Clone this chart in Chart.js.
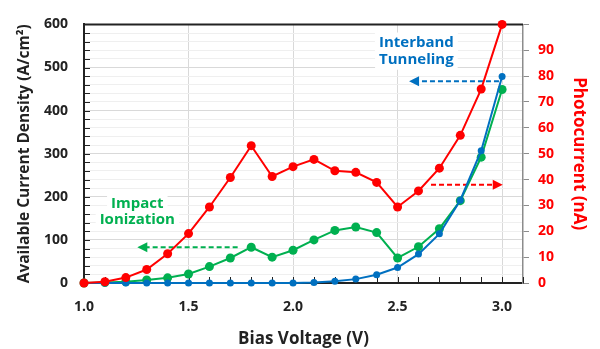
<!DOCTYPE html>
<html><head><meta charset="utf-8">
<script src="https://cdn.jsdelivr.net/npm/chart.js@4/dist/chart.umd.min.js"></script>
<style>html,body{margin:0;padding:0;background:#fff}</style>
</head><body>
<canvas id="c" width="600" height="349"></canvas>
<script>
const biasVoltage = [1.0,1.1,1.2,1.3,1.4,1.5,1.6,1.7,1.8,1.9,2.0,2.1,2.2,2.3,2.4,2.5,2.6,2.7,2.8,2.9,3.0];
const photocurrentNA = [0,0.5,2.1,5.2,11.3,19.1,29.4,40.8,53.1,41.2,45.0,47.8,43.4,42.8,38.9,29.4,35.6,44.4,57.1,75.0,100];
const impactIonization = [0,1,3,7,12,21,38,58,83,60,76,100,122,130,117,58,84,126,191,292,449];
const interbandTunneling = [0,0,0,0,0,0,0,0,0,0,0,1,4,9,19,36,67,114,192,307,479];
const leftTicks = [0,100,200,300,400,500,600];
const rightTicks = [0,10,20,30,40,50,60,70,80,90];
const xTicks = [1.0,1.5,2.0,2.5,3.0];

const RED = '#FF0000', GREEN = '#00B050', BLUE = '#0070C0';
const FONT = "'Open Sans', sans-serif";

const pts = (ys) => biasVoltage.map((x,i)=>({x, y: ys[i]}));

// annotations in data coordinates (x: V, y: left axis units)
const annotations = [
  {color: BLUE, lines:['Interband','Tunneling'], x:2.59, y:[558,518], arrow:{x0:2.985,x1:2.555,y:468}},
  {color: GREEN, lines:['Impact','Ionization'], x:1.255, y:[185,147], arrow:{x0:1.735,x1:1.255,y:83}},
  {color: RED, lines:[], arrow:{x0:2.66,x1:3.003,y:228}}
];

const decor = {
  id:'decor',
  beforeDatasetsDraw(chart){
    const {ctx, chartArea:a, scales:{x, y}} = chart;
    ctx.save();
    ctx.strokeStyle = '#222'; ctx.lineWidth = 1;
    for (let v=0; v<=600; v+=20){
      const py = Math.round(y.getPixelForValue(v))+0.5;
      ctx.beginPath(); ctx.moveTo(a.left, py); ctx.lineTo(a.left+6, py); ctx.stroke();
    }
    for (let k=10; k<=31; k++){
      const px = Math.round(x.getPixelForValue(k/10))+0.5;
      ctx.beginPath(); ctx.moveTo(px, a.bottom); ctx.lineTo(px, a.bottom-6); ctx.stroke();
    }
    annotations.forEach(an=>{
      ctx.font = "bold 15px " + FONT;
      ctx.textAlign='center'; ctx.textBaseline='middle';
      an.lines.forEach((t,i)=>{
        const px = x.getPixelForValue(an.x), py = y.getPixelForValue(an.y[i]);
        const w = ctx.measureText(t).width;
        ctx.fillStyle='#fff'; ctx.fillRect(px-w/2-4, py-10, w+8, 20);
      });
      an.lines.forEach((t,i)=>{
        const px = x.getPixelForValue(an.x), py = y.getPixelForValue(an.y[i]);
        ctx.fillStyle = an.color; ctx.fillText(t, px, py);
      });
      const ar = an.arrow;
      const x0 = x.getPixelForValue(ar.x0), x1 = x.getPixelForValue(ar.x1), py = y.getPixelForValue(ar.y);
      const dir = Math.sign(x1-x0);
      ctx.strokeStyle = an.color; ctx.lineWidth = 2; ctx.setLineDash([5,3]);
      ctx.beginPath(); ctx.moveTo(x0, py); ctx.lineTo(x1 - dir*8, py); ctx.stroke();
      ctx.setLineDash([]);
      ctx.fillStyle = an.color;
      ctx.beginPath(); ctx.moveTo(x1, py); ctx.lineTo(x1-dir*10, py-5); ctx.lineTo(x1-dir*10, py+5); ctx.closePath(); ctx.fill();
    });
    ctx.strokeStyle='#222'; ctx.lineWidth=2;
    ctx.beginPath(); ctx.moveTo(a.left-1, a.top); ctx.lineTo(a.right, a.top); ctx.stroke();
    ctx.restore();
  }
};

new Chart(document.getElementById('c'), {
  type:'line',
  data:{datasets:[
    {label:'Photocurrent', data: pts(photocurrentNA), yAxisID:'y1', borderColor:RED, backgroundColor:RED, borderWidth:2, pointRadius:4.5, pointBorderWidth:0, clip:false},
    {label:'Interband Tunneling', data: pts(interbandTunneling), yAxisID:'y', borderColor:BLUE, backgroundColor:BLUE, borderWidth:2, pointRadius:3.5, pointBorderWidth:0, clip:false},
    {label:'Impact Ionization', data: pts(impactIonization), yAxisID:'y', borderColor:GREEN, backgroundColor:GREEN, borderWidth:2, pointRadius:4.5, pointBorderWidth:0, clip:false}
  ]},
  options:{
    responsive:false, animation:false,
    layout:{padding:{top:13, left:0, right:0, bottom:0}},
    plugins:{legend:{display:false}, tooltip:{enabled:false}},
    elements:{line:{tension:0}},
    scales:{
      x:{type:'linear', min:1.0, max:3.1,
        afterBuildTicks(s){ s.ticks = []; for(let k=10;k<=31;k++) s.ticks.push({value:k/10}); },
        afterFit(s){ s.height = 66; },
        ticks:{autoSkip:false, maxRotation:0, minRotation:0, padding:16, color:'#222', font:{family:FONT, weight:'bold', size:14},
          callback:(v)=>{ const r=Math.round(v*10); return r%5===0 && r<=30 ? (r/10).toFixed(1) : ''; }},
        grid:{drawTicks:false, color:(c)=>{ const r=Math.round(c.tick.value*10); return (r%5===0 && r>10) ? '#d9d9d9' : 'rgba(0,0,0,0)'; }, lineWidth:1},
        border:{color:'#222', width:2},
        title:{display:true, text:'Bias Voltage (V)', color:'#222', font:{family:FONT, weight:'bold', size:17}, padding:{top:6,bottom:0}}
      },
      y:{type:'linear', position:'left', min:0, max:600,
        afterBuildTicks(s){ s.ticks = []; for(let v=0;v<=600;v+=20) s.ticks.push({value:v}); },
        afterFit(s){ s.width = 84; },
        ticks:{autoSkip:false, padding:16, color:'#222', font:{family:FONT, weight:'bold', size:14},
          callback:(v)=> leftTicks.includes(v) ? String(v) : ''},
        grid:{drawTicks:false, color:(c)=> c.tick.value%100===0 ? '#d9d9d9' : '#efefef', lineWidth:1},
        border:{color:'#222', width:2},
        title:{display:true, text:'Available Current Density (A/cm²)', color:'#222', font:{family:FONT, weight:'bold', size:15.5}, padding:{top:15,bottom:0}}
      },
      y1:{type:'linear', position:'right', min:0, max:100,
        afterBuildTicks(s){ s.ticks = []; for(let v=0;v<=100;v+=10) s.ticks.push({value:v}); },
        afterFit(s){ s.width = 77; },
        ticks:{autoSkip:false, padding:9, color:RED, font:{family:FONT, weight:'bold', size:14},
          callback:(v)=> rightTicks.includes(v) ? String(v) : ''},
        grid:{drawOnChartArea:false, drawTicks:true, tickLength:6, color:'#8c8c8c', lineWidth:1},
        border:{color:'#8c8c8c', width:1.5},
        title:{display:true, text:'Photocurrent (nA)', color:RED, font:{family:FONT, weight:'bold', size:17}, padding:{top:11,bottom:0}}
      }
    }
  },
  plugins:[decor]
});
</script>
</body></html>
